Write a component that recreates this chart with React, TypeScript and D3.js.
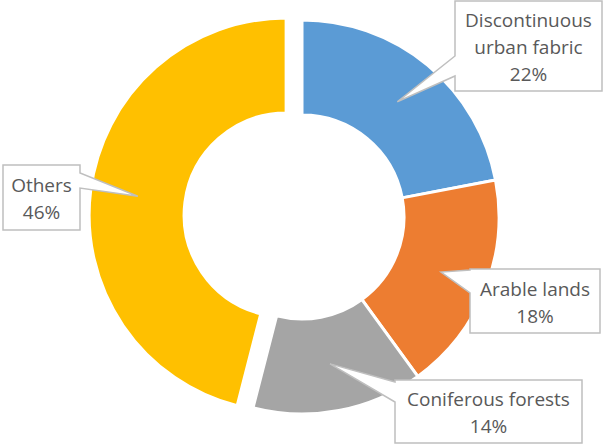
import React from "react";
import * as d3 from "d3";

const categories = ["Discontinuous urban fabric", "Arable lands", "Coniferous forests", "Others"];
const values = [22, 18, 14, 46];
const labelLines = [["Discontinuous", "urban fabric", "22%"], ["Arable lands", "18%"], ["Coniferous forests", "14%"], ["Others", "46%"]];
const colors = ["#5B9BD5", "#ED7D31", "#A5A5A5", "#FFC000"];
const explode = [0, 0, 0, 16];

// callout layout: box x,y,w,h, wedge side and offsets along that side
const callouts = [
  { x: 455, y: 1, w: 147, h: 90, side: "left", a: 55, b: 75 },
  { x: 470, y: 269, w: 130, h: 64, side: "left", a: 1, b: 24 },
  { x: 395, y: 380, w: 187, h: 63, side: "left", a: 2, b: 22 },
  { x: 3, y: 165, w: 77, h: 65, side: "right", a: 8, b: 23 },
];

const W = 608, H = 446;
const cx = 302, cy = 217, rOuter = 197, rInner = 102;

function calloutPath(c: any, tip: [number, number]) {
  const { x, y, w, h, side, a, b } = c;
  const pts: [number, number][] = [];
  if (side === "left") {
    pts.push([x, y], [x + w, y], [x + w, y + h], [x, y + h], [x, y + b], tip, [x, y + a]);
  } else if (side === "right") {
    pts.push([x, y], [x + w, y], [x + w, y + a], tip, [x + w, y + b], [x + w, y + h], [x, y + h]);
  } else {
    pts.push([x, y], [x + a, y], tip, [x + b, y], [x + w, y], [x + w, y + h], [x, y + h]);
  }
  return "M" + pts.map((p) => p.join(",")).join("L") + "Z";
}

export default function App() {
  const pie = d3.pie<number>().sort(null).value((d) => d).startAngle(0).endAngle(2 * Math.PI);
  const arcs = pie(values);
  const arc = d3.arc<d3.PieArcDatum<number>>().innerRadius(rInner).outerRadius(rOuter);
  const fs = 19;
  const lineH = 27;
  return (
    <svg width={W} height={H} style={{ position: "absolute", left: 0, top: 0 }} fontFamily="'Open Sans', sans-serif">
      <rect width={W} height={H} fill="#fff" />
      <g transform={`translate(${cx},${cy})`}>
        {arcs.map((d, i) => {
          const mid = (d.startAngle + d.endAngle) / 2;
          const dx = Math.sin(mid) * explode[i];
          const dy = -Math.cos(mid) * explode[i];
          return (
            <path key={categories[i]} d={arc(d) || ""} fill={colors[i]} stroke="#fff" strokeWidth={3}
              transform={`translate(${dx},${dy})`} />
          );
        })}
      </g>
      {arcs.map((d, i) => {
        const mid = (d.startAngle + d.endAngle) / 2;
        const c = arc.centroid(d);
        const tip: [number, number] = [cx + c[0] + Math.sin(mid) * explode[i], cy + c[1] - Math.cos(mid) * explode[i]];
        const box = callouts[i];
        const lines = labelLines[i];
        const n = lines.length;
        return (
          <g key={"lab" + i}>
            <path d={calloutPath(box, tip)} fill="#fff" stroke="#BFBFBF" strokeWidth={1.5} strokeLinejoin="miter" />
            {lines.map((t, j) => (
              <text key={j} x={box.x + box.w / 2} y={box.y + box.h / 2 + (j - (n - 1) / 2) * lineH + 8}
                textAnchor="middle" fontSize={fs} fill="#595959">{t}</text>
            ))}
          </g>
        );
      })}
    </svg>
  );
}
